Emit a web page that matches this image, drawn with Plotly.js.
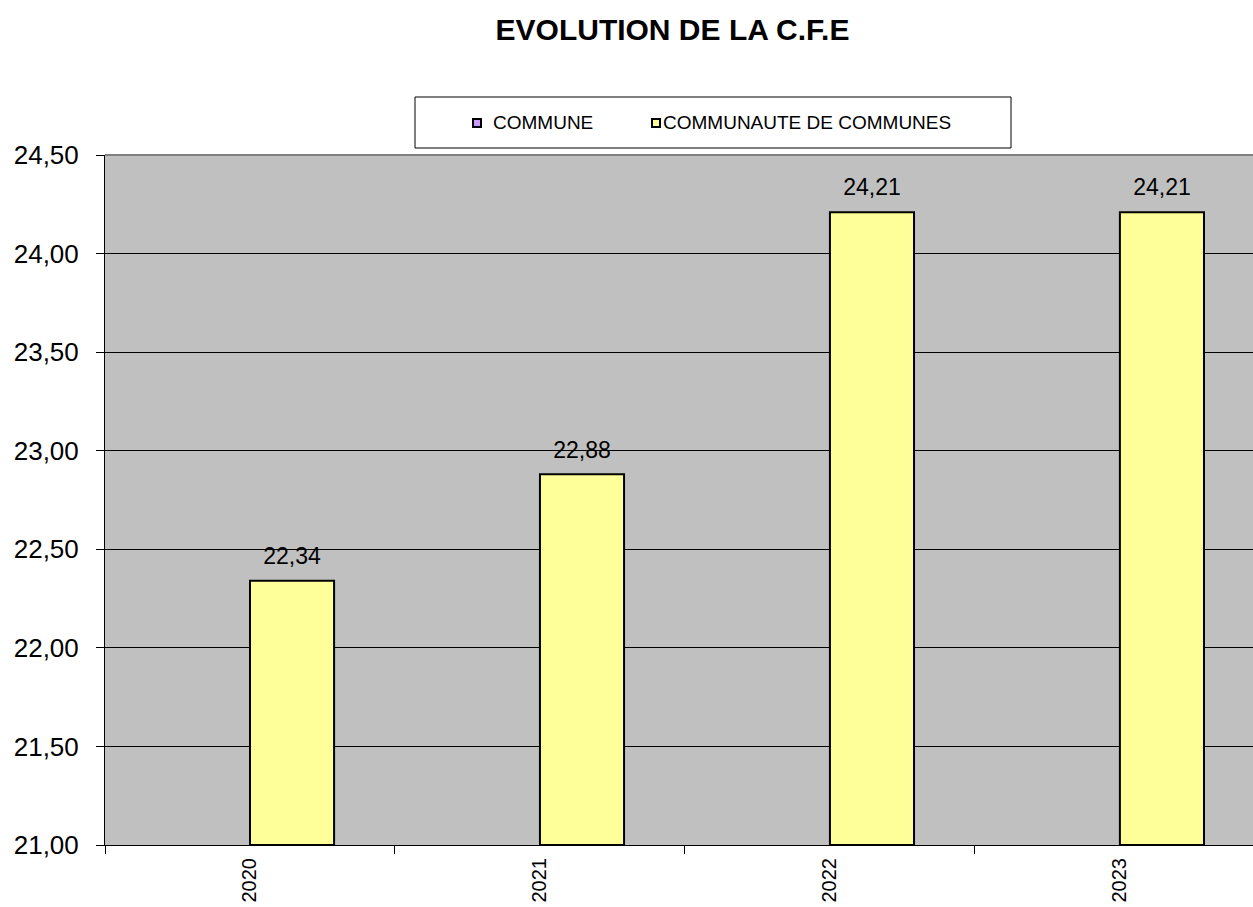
<!DOCTYPE html>
<html><head><meta charset="utf-8">
<script src="https://cdn.plot.ly/plotly-3.0.1.min.js"></script>
<style>body{margin:0;padding:0;overflow:hidden;background:#fff}</style>
</head><body>
<div id="chart" style="width:1253px;height:907px"></div>
<script>
const years = ['2020', '2021', '2022', '2023'];
const seriesNames = ['COMMUNE', 'COMMUNAUTE DE COMMUNES'];
const seriesColors = ['#CC99FF', '#FFFF99'];
const commune = [null, null, null, null];
const communaute = [22.34, 22.88, 24.21, 24.21];
const yTicks = [21, 21.5, 22, 22.5, 23, 23.5, 24, 24.5];
const fmt = v => v.toFixed(2).replace('.', ',');

const FONT = 'Liberation Sans, Arial, sans-serif';
const traces = [
  {type: 'bar', name: seriesNames[0], x: years, y: commune, base: 21,
   marker: {color: seriesColors[0], line: {color: '#000', width: 2}}, hoverinfo: 'skip'},
  {type: 'bar', name: seriesNames[1], x: years, y: communaute.map(v => v - 21), base: 21,
   marker: {color: seriesColors[1], line: {color: '#000', width: 2}},
   text: communaute.map(v => "<span style='font-size:23px'>" + fmt(v) + "</span><br> "),
   textposition: 'outside',
   textfont: {size: 9, color: '#000', family: FONT},
   constraintext: 'none',
   cliponaxis: false}
];

// paper-coordinate helpers for the legend box (plot area: x 105..1253, y 155..845)
const px = p => (p - 105) / 1148;
const py = p => (845 - p) / 690;

const shapes = [
  {type: 'line', xref: 'paper', yref: 'paper', x0: 0, x1: 1, y0: 1, y1: 1, line: {color: '#808080', width: 2}},
  {type: 'rect', xref: 'paper', yref: 'paper', x0: px(415), x1: px(1011), y0: py(148), y1: py(97),
   line: {color: '#000', width: 1}, fillcolor: '#fff'},
  {type: 'rect', xref: 'paper', yref: 'paper', x0: px(473), x1: px(481), y0: py(127), y1: py(119),
   line: {color: '#000', width: 2}, fillcolor: seriesColors[0]},
  {type: 'rect', xref: 'paper', yref: 'paper', x0: px(652), x1: px(660), y0: py(127), y1: py(119),
   line: {color: '#000', width: 2}, fillcolor: seriesColors[1]}
];
const annotations = [
  {xref: 'paper', yref: 'paper', x: px(491), y: py(123), xanchor: 'left', yanchor: 'middle', showarrow: false,
   text: seriesNames[0], font: {size: 19, color: '#000', family: FONT}},
  {xref: 'paper', yref: 'paper', x: px(661), y: py(123), xanchor: 'left', yanchor: 'middle', showarrow: false,
   text: seriesNames[1], font: {size: 19, color: '#000', family: FONT}}
];

const layout = {
  width: 1253, height: 907,
  margin: {l: 105, r: 0, t: 155, b: 62},
  paper_bgcolor: '#fff', plot_bgcolor: '#C0C0C0',
  font: {family: FONT, color: '#000'},
  separators: ',.',
  title: {text: '<b>EVOLUTION DE LA C.F.E</b>', x: 0.5367, xanchor: 'center', y: 0.967, yanchor: 'middle',
          font: {size: 30, color: '#000'}},
  barmode: 'group', bargap: 0.42, bargroupgap: 0,
  showlegend: false,
  xaxis: {type: 'category', range: [-0.5, 3.459], tickson: 'boundaries', ticks: 'outside', ticklen: 8,
          tickcolor: '#000', tickangle: -90, tickfont: {size: 20}, ticklabelstandoff: 4,
          showline: true, linecolor: '#000', linewidth: 1, showgrid: false, fixedrange: true},
  yaxis: {range: [21, 24.5], tickvals: yTicks, ticktext: yTicks.map(fmt),
          ticks: 'outside', ticklen: 8, tickcolor: '#000', tickfont: {size: 26}, ticklabelstandoff: 12,
          showline: true, linecolor: '#000', linewidth: 1,
          showgrid: true, gridcolor: '#000', gridwidth: 1, zeroline: false, fixedrange: true},
  shapes: shapes,
  annotations: annotations
};

Plotly.newPlot('chart', traces, layout, {displayModeBar: false, staticPlot: true});
</script>
</body></html>
